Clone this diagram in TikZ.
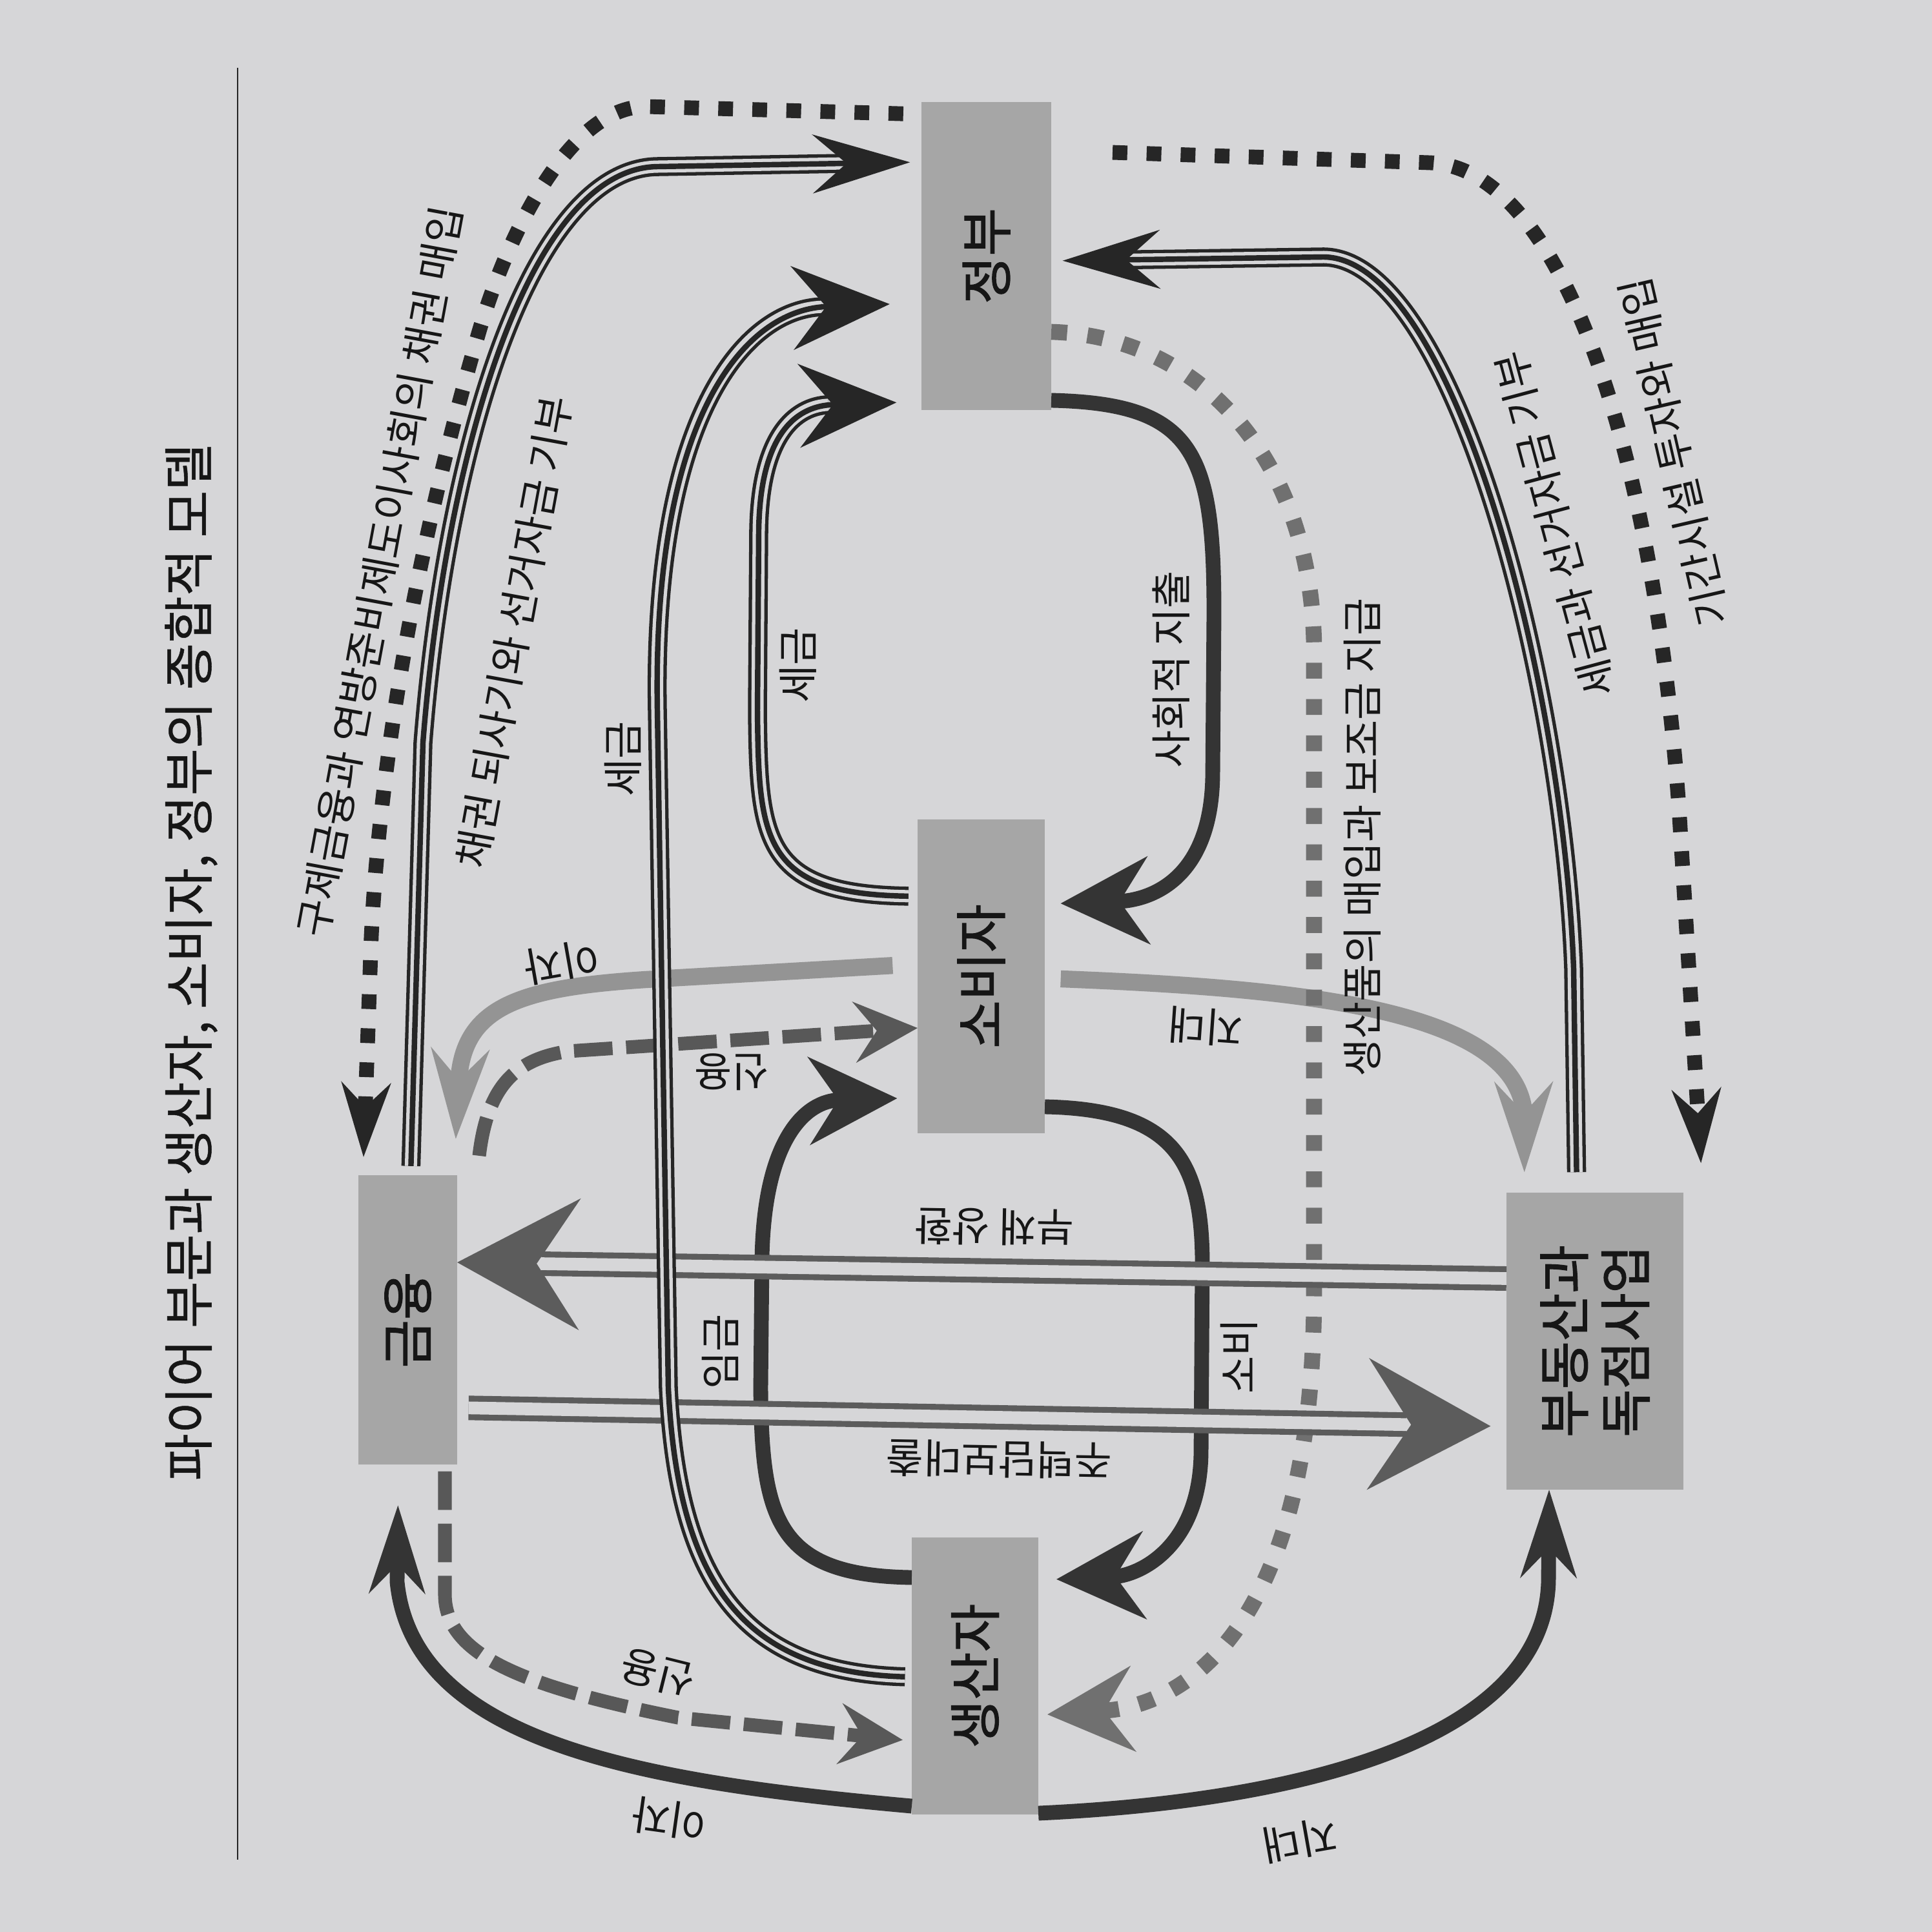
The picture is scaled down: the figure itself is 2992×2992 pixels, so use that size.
\documentclass[tikz,border=0pt]{standalone}
\usepackage{fontspec}
\setmainfont{Noto Sans CJK KR}
\newfontfamily\boxfont[FakeBold=1.6]{Noto Sans CJK KR}
\newfontfamily\titlefont[FakeBold=0.6]{Noto Sans CJK KR}
\usepackage{tikz}
\usetikzlibrary{arrows.meta}
\definecolor{paper}{RGB}{214,214,216}
\definecolor{boxgray}{RGB}{166,166,166}
\definecolor{ink}{RGB}{38,38,38}
\definecolor{flowdark}{RGB}{52,52,52}
\definecolor{flowgray}{RGB}{148,148,148}
\definecolor{dashgray}{RGB}{88,88,88}
\definecolor{dotgray}{RGB}{112,112,112}
\definecolor{dblgray}{RGB}{92,92,92}
\definecolor{txt}{RGB}{22,22,22}
\tikzset{
  sector/.style={rectangle, fill=boxgray, inner sep=0pt, outer sep=0pt},
  sectorlabel/.style={rotate=90, align=center, text=txt,
    font=\boxfont\fontsize{23pt}{27pt}\selectfont},
  flowlabel/.style={text=txt, inner sep=0pt, font=\fontsize{18pt}{21pt}\selectfont},
  blackflow/.style={draw=flowdark, line width=6.5pt},
  grayflow/.style={draw=flowgray, line width=7.5pt},
  tripleflow/.style={draw=ink, line width=2.4pt,
    preaction={draw=ink, line width=8.4pt, -, shorten >=#1},
    preaction={draw=paper, line width=5.4pt, -, shorten >=#1}},
  dblflow/.style={draw=paper, line width=5.6pt,
    preaction={draw=dblgray, line width=10.8pt, -, shorten >=#1}},
  dotflow/.style={line width=6.5pt, dash pattern=on 6.5pt off 8.5pt},
  dashflow/.style={draw=dashgray, line width=6pt, dash pattern=on 17pt off 6pt},
  headbig/.tip={Stealth[length=39pt, width=39pt, inset=13pt, line width=1pt]},
  headslim/.tip={Stealth[length=39pt, width=25pt, inset=13pt, line width=1pt]},
  headgray/.tip={Stealth[length=40pt, width=26pt, inset=14pt, line width=1pt]},
  headdot/.tip={Stealth[length=33pt, width=22pt, inset=11pt, line width=1pt]},
  headdotgray/.tip={Stealth[length=38pt, width=38pt, inset=13pt, line width=1pt]},
  headdash/.tip={Stealth[length=28pt, width=27pt, inset=10pt, line width=1pt]},
  headtriple/.tip={Stealth[length=43pt, width=26pt, inset=15pt, line width=1pt]},
  headtriplewide/.tip={Stealth[length=43pt, width=37pt, inset=15pt, line width=1pt]},
  headdouble/.tip={Stealth[length=54pt, width=58pt, inset=19pt, line width=1pt, color=dblgray]}
}
\begin{document}
\begin{tikzpicture}[x=0.01cm, y=-0.01cm]
  \fill[paper] (0,0) rectangle (2992,2992);
  \useasboundingbox (0,0) rectangle (2992,2992);

  % Title and rule
  \node[text=txt, rotate=90, font=\titlefont\fontsize{22.5pt}{26pt}\selectfont] (title) at (296,1490)
    {파이어 부문과 생산자, 소비자, 정부의 종합적 모델};
  \draw[ink, line width=0.8pt] (368,105) -- (368,2880);

  % Sectors
  \node[sector, minimum width=2.01cm, minimum height=4.77cm] (gov) at (1527.5,396.5) {};
  \node[sector, minimum width=1.97cm, minimum height=4.86cm] (cons) at (1519.5,1512) {};
  \node[sector, minimum width=1.53cm, minimum height=4.48cm] (fin) at (631.5,2044) {};
  \node[sector, minimum width=1.96cm, minimum height=4.29cm] (prod) at (1510,2595.5) {};
  \node[sector, minimum width=2.74cm, minimum height=4.60cm] (fire) at (2470,2077) {};
  \node[sectorlabel] (gov-l) at (gov) {정부};
  \node[sectorlabel] (cons-l) at (cons) {소비자};
  \node[sectorlabel] (fin-l) at (fin) {금융};
  \node[sectorlabel] (prod-l) at (prod) {생산자};
  \node[sectorlabel] (fire-l) at (fire) {부동산과\\독점사업};

  % Gray bands from consumers
  \draw[grayflow, -{headgray}, shorten <=11pt, shorten >=16pt]
    (cons.west |- 0,1493) -- (1000,1517) .. controls (800,1530) and (715,1560) .. (710,1680)
    -- (703,0 |- fin.north);
  \draw[grayflow, -{headgray}, shorten <=7pt, shorten >=9pt]
    (cons.east |- 0,1515) .. controls (2000,1530) and (2340,1560) .. (2360,1720)
    -- (2361,0 |- fire.north);

  % Credit (dashed)
  \draw[dashflow, -{headdash}]
    ([shift={(34,-30)}]fin.north east) .. controls (755,1680) and (800,1640) .. (880,1628)
    -- (cons.west |- 0,1592);
  \draw[dashflow, -{headdash}, shorten <=3pt, shorten >=4pt]
    (689,0 |- fin.south) -- (689,2470) .. controls (690,2560) and (800,2610) .. (1050,2660)
    -- (prod.west |- 0,2696);

  % Dotted flows
  \draw[dotflow, draw=ink, -{headdot}, shorten <=8pt, shorten >=8pt]
    (gov.west |- 0,177) -- (1000,165) .. controls (880,165) and (783,370) .. (740,520)
    .. controls (653,820) and (590,1150) .. (575,1450) -- (562,0 |- fin.north);
  \draw[dotflow, draw=ink, -{headdot}, shorten <=27pt, shorten >=13pt]
    (gov.east |- 0,233) -- (2214,252) .. controls (2420,260) and (2560,700) .. (2600,1250)
    -- (2637,0 |- fire.north);
  \draw[dotflow, draw=dotgray, line width=7pt, dash pattern=on 7pt off 9pt, -{headdotgray}, shorten >=4pt]
    (gov.east |- 0,514) .. controls (1850,520) and (2030,700) .. (2035,1000) -- (2035,2000)
    .. controls (2035,2500) and (1850,2640) .. (prod.east |- 0,2656);

  % Black bands
  \draw[blackflow, -{headbig}, shorten >=7pt]
    (gov.east |- 0,620) .. controls (1850,625) and (1880,700) .. (1880,950) -- (1878,1200)
    .. controls (1876,1380) and (1760,1395) .. (cons.east |- 0,1400);
  \draw[blackflow, -{headbig}, shorten >=9pt]
    (prod.west |- 0,2443) .. controls (1200,2440) and (1180,2350) .. (1178,2150) -- (1180,1950)
    .. controls (1183,1760) and (1250,1705) .. (cons.west |- 0,1700);
  \draw[blackflow, -{headbig}, shorten >=8pt]
    (cons.east |- 0,1714) .. controls (1820,1718) and (1860,1800) .. (1862,1950) -- (1860,2250)
    .. controls (1858,2400) and (1760,2440) .. (prod.east |- 0,2447);
  \draw[blackflow, -{headslim}, shorten >=18pt]
    (prod.west |- 0,2797) .. controls (1000,2760) and (640,2700) .. (615,2450) -- (617,0 |- fin.south);
  \draw[blackflow, -{headslim}]
    (prod.east |- 0,2808) .. controls (2000,2790) and (2390,2700) .. (2398,2450) -- (2399,0 |- fire.south);

  % Double lines
  \draw[dblflow=37pt, -{headdouble}] (fire.west |- 0,1980) -- (fin.east |- 0,1955);
  \draw[dblflow=44pt, -{headdouble}, shorten <=5pt, shorten >=7pt] (fin.east |- 0,2180) -- (fire.west |- 0,2209);

  % Triple lines
  \draw[tripleflow=35pt, -{headtriple}, shorten <=4pt, shorten >=5pt]
    (636,0 |- fin.north) -- (655,1150) .. controls (690,700) and (820,258) .. (1020,258)
    -- (gov.west |- 0,251);
  \draw[tripleflow=44pt, -{headtriplewide}, shorten <=3pt, shorten >=14pt]
    (prod.west |- 0,2597) .. controls (1150,2590) and (1050,2450) .. (1035,2150) -- (1018,1100)
    .. controls (1010,650) and (1150,480) .. (gov.west |- 0,469);
  \draw[tripleflow=41pt, -{headtriplewide}, shorten <=4pt, shorten >=11pt]
    (cons.west |- 0,1388) .. controls (1180,1385) and (1175,1300) .. (1173,1100) -- (1175,820)
    .. controls (1178,650) and (1250,628) .. (gov.west |- 0,622);
  \draw[tripleflow=35pt, -{headtriple}, shorten <=9pt, shorten >=5pt]
    (2442,0 |- fire.north) -- (2437,1500) .. controls (2420,1050) and (2250,400) .. (2050,398)
    -- (gov.east |- 0,404);

  % Labels
  \node[flowlabel, rotate=79.5] (l-bailout) at (588,885) {구제금융과 연방준비제도이사회의 채권 매입};
  \node[flowlabel, rotate=79.6] (l-buyback) at (796,979) {채권 되사기와 선거자금 기부};
  \node[flowlabel, rotate=90] (l-tax1) at (965,1175) {세금};
  \node[flowlabel, rotate=90] (l-tax2) at (1236,1030) {세금};
  \node[flowlabel, rotate=90] (l-social) at (1814,1037) {사회적 지출};
  \node[flowlabel, rotate=90] (l-purchase) at (2110,1297) {생산품의 매입과 보조금 지급};
  \node[flowlabel, rotate=105] (l-donation) at (2408,812) {세금과 선거자금 기부};
  \node[flowlabel, rotate=103] (l-infra) at (2592,700) {기간시설 투자와 매입};
  \node[flowlabel, rotate=190] (l-int1) at (870,1490) {이자};
  \node[flowlabel, rotate=180] (l-credit1) at (1133,1660) {신용};
  \node[flowlabel, rotate=176] (l-rent1) at (1867,1590) {지대};
  \node[flowlabel, rotate=179] (l-debt) at (1540,1900) {부채 상환};
  \node[flowlabel, rotate=179] (l-mortgage) at (1547,2260) {주택담보대출};
  \node[flowlabel, rotate=90] (l-wage) at (1115,2093) {임금};
  \node[flowlabel, rotate=90] (l-consume) at (1919,2100) {소비};
  \node[flowlabel, rotate=166] (l-credit2) at (1019,2591) {신용};
  \node[flowlabel, rotate=172] (l-int2) at (1037,2817) {이자};
  \node[flowlabel, rotate=190] (l-rent2) at (2013,2850) {지대};
\end{tikzpicture}
\end{document}
